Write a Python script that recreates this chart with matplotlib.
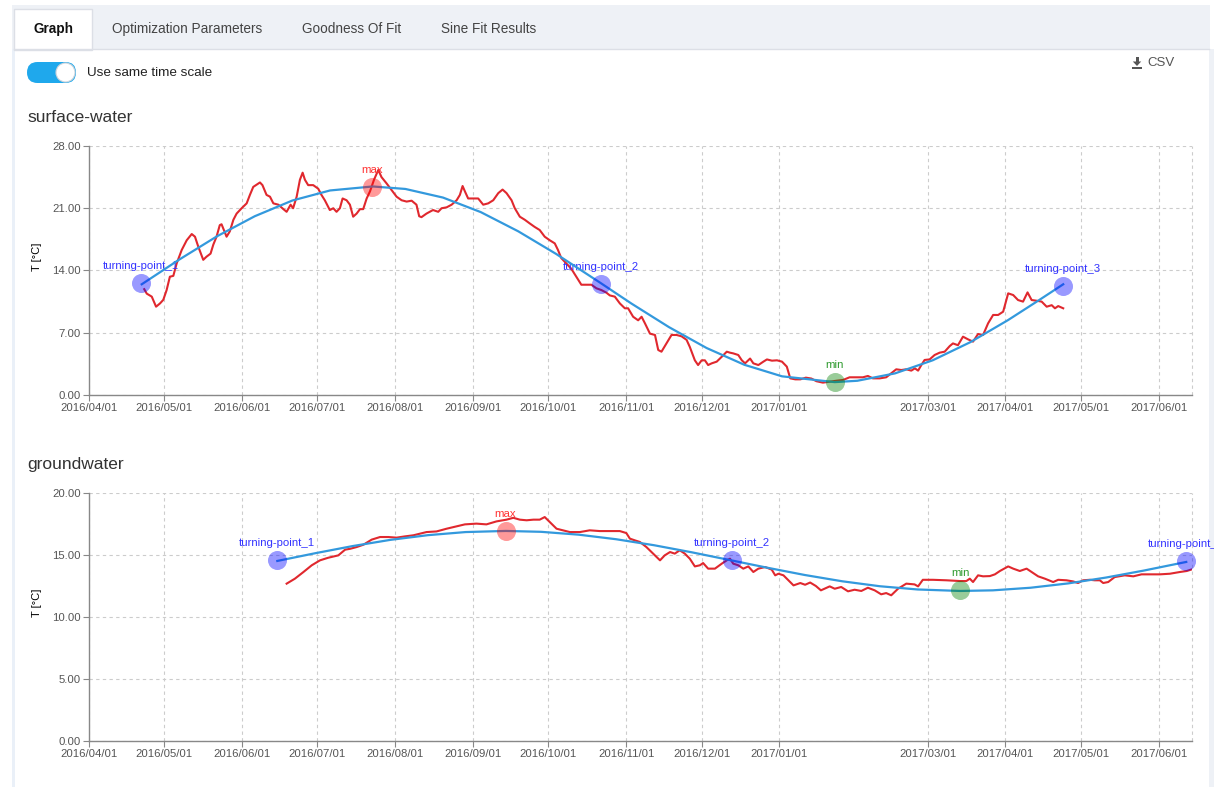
import numpy as np
import matplotlib
matplotlib.use("Agg")
import matplotlib.pyplot as plt
import matplotlib.dates as mdates
from matplotlib.patches import Rectangle, FancyBboxPatch, Circle, Polygon

plt.rcParams['font.family'] = ['Liberation Sans', 'DejaVu Sans']

# ---- data (days counted from 2016/04/01) ----
sw_days = [22, 23, 25, 26.7, 28.3, 29.6, 30.9, 32.2, 33.6, 34.9, 36.9, 38.9, 40.9, 42.2,
           43.5, 45.5, 46.8, 48.4, 49.5, 50.8, 52.1, 52.8, 53.7, 54.8, 56.1, 57.5, 58.8,
           60.8, 62.8, 64.1, 65.4, 68.1, 69.1, 70.7, 72.1, 73.4, 75.4, 77.4, 78.7, 80.3,
           81.3, 82.7, 84, 85.1, 86, 87.3, 89.3, 91.3, 92.6, 93.9, 95.9, 97.3, 98.6, 99.9,
           101, 102.6, 103.9, 105.2, 106.6, 107.9, 109.2, 110.6, 111.9, 113.5, 115.2, 116.5,
           118.5, 120.5, 122.5, 124.5, 126.5, 128.5, 130.4, 131.5, 132.4, 134.4, 137, 139.1,
           140.4, 142.4, 144.4, 146.4, 147.7, 148.8, 149.7, 151, 153, 155, 157, 159, 161,
           163, 164.7, 166.3, 168.3, 169.6, 171.6, 173.6, 175.5, 177.5, 179.5, 181.5, 183.5,
           185.5, 186.8, 188.1, 190.1, 192.1, 194.1, 196.1, 198.1, 200.1, 202.1, 204.1,
           206.1, 207.4, 209.4, 211.4, 213.4, 214.7, 216.7, 218.7, 220.1, 221.4, 223.4,
           225.4, 226.7, 228, 230, 232, 234, 236, 238, 239.3, 241.3, 242.6, 244, 245.3,
           246.6, 248, 250, 252, 254, 255.3, 256.6, 258.6, 260, 261.3, 263.3, 264.6, 266.6,
           268.6, 270, 272, 274, 276, 277.9, 279.3, 281.3, 283.3, 285.5, 287.7, 289.7,
           292.3, 295, 297.6, 300.3, 302.9, 305.6, 308.2, 310.2, 312.2, 314.9, 317.5, 319.5,
           321.5, 323.5, 325.5, 327.5, 328.9, 330.2, 331.5, 332.8, 334.8, 336.8, 338.8,
           340.8, 342.8, 344.1, 346.1, 348.1, 350.1, 352.1, 354.1, 356.1, 358.1, 360.1,
           362.1, 364.1, 366.1, 368.1, 370, 372, 373.8, 375.4, 377.4, 379.4, 381.4, 383.4,
           384.7, 386, 388]
sw_temp = [11.9, 11.4, 11.06, 9.93, 10.3, 10.7, 11.8, 13.3, 13.4, 14.8, 16.3, 17.4, 18.1,
           17.8, 16.7, 15.2, 15.55, 15.9, 16.9, 17.8, 19.1, 19.2, 18.55, 17.8, 18.4, 19.7,
           20.4, 21.0, 21.55, 22.5, 23.4, 23.9, 23.6, 22.5, 22.3, 21.55, 21.4, 20.9, 20.6,
           21.4, 21.0, 22.3, 24.2, 25.0, 24.2, 23.6, 23.6, 23.2, 22.5, 21.9, 20.8, 21.0,
           20.6, 21.0, 22.1, 21.9, 21.4, 20.05, 20.4, 20.9, 20.9, 22.1, 22.9, 24.2, 25.3,
           24.5, 23.8, 23.05, 22.3, 21.9, 21.75, 21.85, 21.4, 20.1, 20.0, 20.4, 20.8, 20.6,
           21.0, 21.1, 21.4, 21.9, 22.5, 23.5, 22.9, 22.1, 22.1, 22.1, 21.4, 21.55, 21.9,
           22.7, 23.1, 22.7, 21.9, 21.0, 20.05, 19.7, 19.3, 18.9, 18.55, 17.8, 17.4, 17.05,
           16.3, 15.4, 14.8, 14.2, 13.3, 12.4, 12.4, 12.4, 12.0, 11.8, 11.5, 11.2, 11.06,
           10.3, 9.75, 9.75, 8.8, 8.4, 8.8, 8.06, 6.9, 6.75, 5.06, 4.87, 5.8, 6.75, 6.75,
           6.6, 6.2, 5.4, 3.9, 3.37, 3.9, 3.9, 3.37, 3.56, 3.75, 4.3, 4.87, 4.76, 4.68, 4.5,
           3.9, 3.56, 4.1, 3.56, 3.37, 3.75, 4.0, 3.86, 3.9, 3.75, 3.19, 1.87, 1.76, 1.76,
           1.95, 1.85, 1.55, 1.39, 1.5, 1.6, 1.69, 1.99, 1.99, 1.99, 2.14, 1.87, 1.87, 1.99,
           2.44, 2.89, 2.81, 2.89, 2.74, 3.0, 2.74, 3.37, 3.94, 4.0, 4.5, 4.76, 4.87, 5.5,
           5.8, 5.6, 6.56, 6.26, 6.0, 6.86, 6.75, 8.06, 9.0, 9.0, 9.37, 11.43, 11.24, 10.68,
           10.5, 11.54, 10.68, 10.6, 10.5, 9.93, 10.1, 9.75, 10.0, 9.75]

sw_fit_days = [21, 36, 51, 66, 81, 96, 113, 126, 141, 156, 171, 186, 204, 216, 231, 246,
               261, 276, 297, 306, 321, 336, 351, 366, 378, 388]
sw_fit_temp = [12.45, 15.24, 17.85, 20.1, 21.87, 23.0, 23.45, 23.17, 22.2, 20.57, 18.4,
               15.87, 12.55, 10.29, 7.63, 5.28, 3.4, 2.1, 1.45, 1.6, 2.43, 3.9, 5.94, 8.42,
               10.6, 12.45]

sw_tp_days = [20.7, 203.8, 388]
sw_tp_temp = [12.6, 12.5, 12.3]
sw_max = (112.8, 23.36)
sw_min = (297, 1.43)

gw_days = [78.7, 82.0, 85.4, 88.7, 92.0, 95.3, 99.3, 102, 104, 106.6, 109.3, 112.6, 115.9,
           119.2, 122.5, 125.8, 129.2, 134.4, 138.4, 142.4, 146.4, 149.7, 154.3, 158.3,
           162.3, 166.3, 169, 171.6, 174.3, 177, 179.5, 181.5, 183.5, 186.2, 188.8, 191.5,
           195.5, 199.4, 203.4, 207.4, 211.4, 214, 215.4, 217.4, 219.4, 222, 224.7, 227.4,
           229.3, 231.4, 233.3, 235.3, 237.3, 239.3, 241.3, 243.3, 244.6, 246.6, 249.3, 252,
           254, 255.3, 256.6, 258.6, 260.6, 262.6, 264.6, 266.6, 269.3, 271.9, 273.3, 274.6,
           276.6, 278.6, 280.6, 283.3, 285.2, 287.2, 289.5, 291.5, 295, 297, 299.6, 302.3,
           304.9, 307.6, 310.2, 312.9, 315.5, 317.5, 319.5, 322.2, 325.5, 328.8, 330.2,
           332.1, 336.1, 341.5, 346.8, 349.4, 350.8, 352.1, 354.1, 356.1, 358.8, 360.8,
           362.8, 366.1, 368.1, 370.7, 373.4, 375.4, 378, 380.7, 384, 386, 389.3, 391.9,
           393.9, 395.9, 398.6, 400.6, 402.6, 403.9, 405.9, 408.5, 412.5, 415.9, 419.2,
           422.5, 426.5, 430.5, 434.5, 437.2, 439.2]
gw_temp = [12.69, 13.09, 13.63, 14.17, 14.57, 14.78, 14.97, 15.43, 15.5, 15.64, 15.83,
           16.24, 16.45, 16.45, 16.4, 16.5, 16.59, 16.85, 16.9, 17.12, 17.31, 17.47, 17.53,
           17.47, 17.71, 17.85, 18.0, 17.85, 17.8, 17.85, 17.85, 18.06, 17.66, 17.12, 16.99,
           16.85, 16.85, 16.99, 16.93, 16.93, 16.93, 16.77, 16.32, 16.18, 16.05, 15.64,
           15.11, 14.57, 14.97, 15.24, 15.11, 15.38, 15.11, 14.7, 14.08, 14.17, 14.35, 13.9,
           13.9, 14.3, 14.57, 14.7, 14.3, 14.17, 13.9, 14.08, 13.63, 13.9, 14.03, 13.82,
           13.36, 13.49, 13.36, 12.96, 12.55, 12.74, 12.6, 12.78, 12.5, 12.15, 12.47, 12.28,
           12.42, 12.07, 12.2, 12.1, 12.36, 12.15, 11.83, 11.93, 11.75, 12.28, 12.69, 12.63,
           12.47, 13.0, 13.0, 12.96, 12.9, 12.9, 13.09, 12.82, 13.36, 13.28, 13.3, 13.44,
           13.71, 14.08, 13.9, 13.71, 13.9, 13.63, 13.28, 13.09, 12.82, 13.0, 12.96, 12.87,
           12.74, 12.96, 13.0, 12.96, 12.96, 12.74, 12.82, 13.22, 13.36, 13.28, 13.44,
           13.44, 13.44, 13.49, 13.63, 13.71, 13.84]

gw_fit_days = [75, 90, 105, 120, 135, 150, 166, 180, 195, 210, 225, 240, 256, 270, 285,
               300, 315, 330, 347, 360, 375, 390, 405, 420, 437]
gw_fit_temp = [14.52, 15.14, 15.72, 16.22, 16.6, 16.85, 16.94, 16.87, 16.64, 16.27, 15.79,
               15.22, 14.56, 13.98, 13.39, 12.88, 12.48, 12.22, 12.1, 12.15, 12.36, 12.71,
               13.18, 13.74, 14.44]

gw_tp_days = [74.7, 255.9, 437]
gw_tp_temp = [14.57, 14.62, 14.52]
gw_max = (165.9, 16.93)
gw_min = (347, 12.15)

month_ticks = ['2016-04-01', '2016-05-01', '2016-06-01', '2016-07-01', '2016-08-01',
               '2016-09-01', '2016-10-01', '2016-11-01', '2016-12-01', '2017-01-01',
               '2017-03-01', '2017-04-01', '2017-05-01', '2017-06-01']
x_end_days = 439.3

tabs = ['Graph', 'Optimization Parameters', 'Goodness Of Fit', 'Sine Fit Results']
tab_x = [53, 187, 352, 489]

START = np.datetime64('2016-04-01T00:00')


def to_dates(days):
    return START + np.round(np.asarray(days, dtype=float) * 24).astype('timedelta64[h]')


W, H = 1214, 787
fig = plt.figure(figsize=(W / 100, H / 100), dpi=100)
fig.patch.set_facecolor('white')

# ---- page chrome ----
bg = fig.add_axes([0, 0, 1, 1])
bg.set_xlim(0, W)
bg.set_ylim(H, 0)
bg.axis('off')
bg.add_patch(Rectangle((12, 5), 1198, 44, color='#eef1f6', lw=0))
bg.add_patch(Rectangle((12, 49), 2.5, H - 49, color='#eaf0f8', lw=0))
bg.add_patch(Rectangle((1209, 49), 5, H - 49, color='#eef1f6', lw=0))
bg.plot([14, 1209], [49, 49], color='#dcdfe6', lw=1)
bg.add_patch(Rectangle((14, 9), 78, 40.5, facecolor='white', edgecolor='#dcdfe6', lw=1))
for i, (t, x) in enumerate(zip(tabs, tab_x)):
    bg.text(x, 29, t, ha='center', va='center', fontsize=9.8,
            color='#111111' if i == 0 else '#444444',
            fontweight='bold' if i == 0 else 'normal')

bg.add_patch(FancyBboxPatch((27, 62), 49, 21, boxstyle='round,pad=0,rounding_size=10.5',
                            facecolor='#1fa8ec', edgecolor='none'))
bg.add_patch(Circle((65.5, 72.5), 9.5, facecolor='white', edgecolor='#cfd4da', lw=0.8))
bg.text(87, 72.5, 'Use same time scale', ha='left', va='center', fontsize=9.7, color='#222222')

bg.add_patch(Rectangle((1135.5, 57), 3, 5.5, color='#555555', lw=0))
bg.add_patch(Polygon([(1132.8, 61.5), (1141.2, 61.5), (1137, 66)], color='#555555', lw=0))
bg.add_patch(Rectangle((1132, 66.5), 10, 2.2, color='#555555', lw=0))
bg.text(1147, 63, 'CSV', ha='left', va='center', fontsize=9.5, color='#555555')

bg.text(27, 118, 'surface-water', ha='left', va='center', fontsize=12.5, color='#333333')
bg.text(27, 465, 'groundwater', ha='left', va='center', fontsize=12.5, color='#333333')
bg.text(37, 257, 'T [°C]', ha='center', va='center', rotation=90, fontsize=8, color='black')
bg.text(37, 603, 'T [°C]', ha='center', va='center', rotation=90, fontsize=8, color='black')


def px_axes(l, t, r, b):
    return fig.add_axes([l / W, 1 - b / H, (r - l) / W, (b - t) / H])


tick_nums = mdates.date2num(np.array(month_ticks, dtype='datetime64[D]'))
tick_labels = [m.replace('-', '/') for m in month_ticks]
x0, x1 = mdates.date2num(to_dates([0, x_end_days]))


def style(ax, yticks):
    ax.set_facecolor('none')
    ax.set_xlim(x0, x1)
    ax.set_xticks(tick_nums)
    ax.set_xticklabels(tick_labels)
    ax.set_yticks(yticks)
    ax.set_yticklabels(['%.2f' % v for v in yticks])
    ax.set_ylim(yticks[0], yticks[-1])
    ax.grid(True, ls=(0, (3, 3)), color='#cccccc', lw=0.8)
    ax.axvline(x1, ls=(0, (3, 3)), color='#cccccc', lw=0.8, clip_on=False)
    for s in ['top', 'right']:
        ax.spines[s].set_visible(False)
    for s in ['left', 'bottom']:
        ax.spines[s].set_color('#888888')
        ax.spines[s].set_linewidth(1)
    ax.tick_params(length=4.3, width=0.8, color='#888888', labelcolor='#555555',
                   labelsize=8.2, pad=1.8)


def draw(ax, days, temp, fit_days, fit_temp, tp_days, tp_temp, mx, mn):
    ax.plot(to_dates(days), temp, color='#e0282e', lw=1.5, zorder=3)
    ax.plot(to_dates(fit_days), fit_temp, color='#3399dd', lw=1.6, zorder=4)
    ax.plot(to_dates(tp_days), tp_temp, 'o', ms=13.7, color='#0000ff', alpha=0.4,
            mec='none', zorder=5, clip_on=False)
    ax.plot(to_dates([mx[0]]), [mx[1]], 'o', ms=13.7, color='#ff0000', alpha=0.4,
            mec='none', zorder=5)
    ax.plot(to_dates([mn[0]]), [mn[1]], 'o', ms=13.7, color='#008000', alpha=0.4,
            mec='none', zorder=5)
    for i, (d, v) in enumerate(zip(tp_days, tp_temp)):
        ax.annotate('turning-point_%d' % (i + 1), (to_dates([d])[0], v), xytext=(0, 12.2),
                    textcoords='offset points', ha='center', va='center', fontsize=8.2,
                    color='#3333ff', annotation_clip=False)
    ax.annotate('max', (to_dates([mx[0]])[0], mx[1]), xytext=(0, 12.2),
                textcoords='offset points', ha='center', va='center', fontsize=8.2,
                color='#ff3333', annotation_clip=False)
    ax.annotate('min', (to_dates([mn[0]])[0], mn[1]), xytext=(0, 12.2),
                textcoords='offset points', ha='center', va='center', fontsize=8.2,
                color='#2e9a2e', annotation_clip=False)


ax1 = px_axes(89, 146, 1192, 395)
style(ax1, [0, 7, 14, 21, 28])
draw(ax1, sw_days, sw_temp, sw_fit_days, sw_fit_temp, sw_tp_days, sw_tp_temp, sw_max, sw_min)

ax2 = px_axes(89, 493, 1192, 741)
style(ax2, [0, 5, 10, 15, 20])
draw(ax2, gw_days, gw_temp, gw_fit_days, gw_fit_temp, gw_tp_days, gw_tp_temp, gw_max, gw_min)

fig.savefig('out.png', dpi=100)
